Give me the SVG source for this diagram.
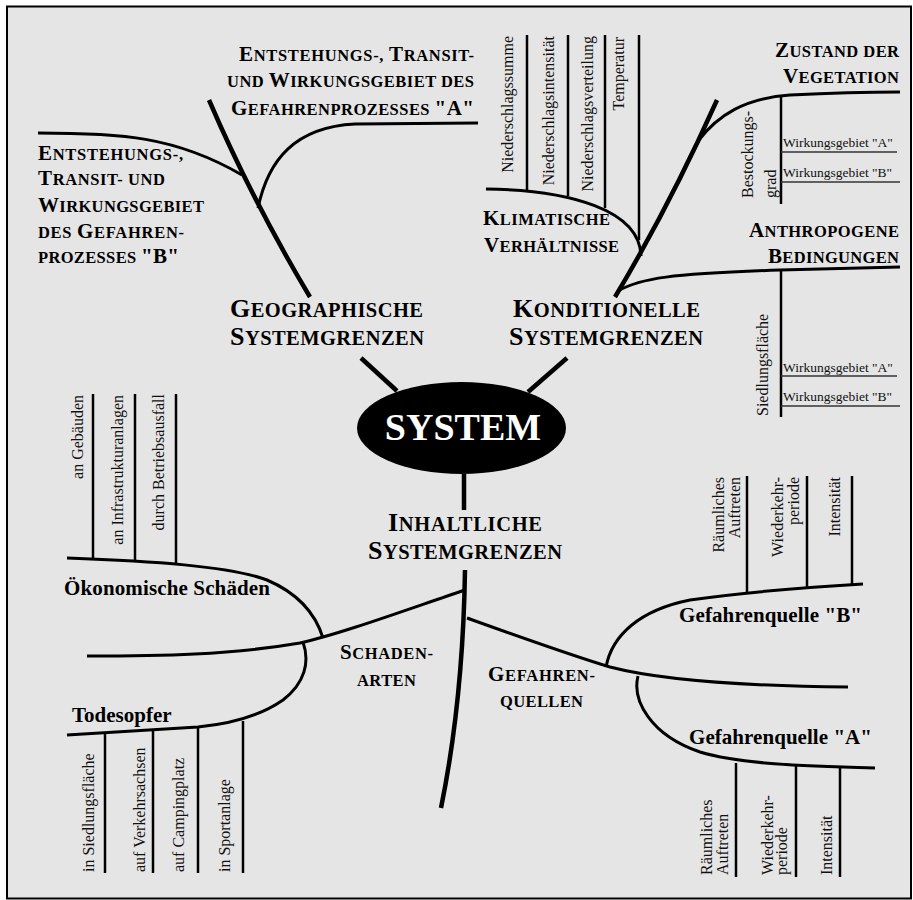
<svg xmlns="http://www.w3.org/2000/svg" width="913" height="900" viewBox="0 0 913 900">
  <style>
    .frame { fill: #e5e5e5; stroke: #000; stroke-width: 2; }
    .c { fill: none; stroke: #000; stroke-linecap: butt; }
    .main { stroke-width: 4.5; }
    .br { stroke-width: 3; }
    .v { stroke-width: 2.5; }
    .thin { stroke-width: 1.6; stroke: #333; }
    text { font-family: "Liberation Serif", "Times New Roman", serif; fill: #000; }
    .b { font-weight: bold; }
    .m { font-size: 21px; font-weight: bold; }
    .m .s { font-size: 16.5px; }
    .l { font-size: 26px; font-weight: bold; }
    .l .s { font-size: 20.5px; }
    .k { font-size: 21px; font-weight: bold; }
    .k .s { font-size: 16.5px; }
    .lab { font-size: 21px; font-weight: bold; }
    .vt { font-size: 16px; fill: #111; }
    .wg { font-size: 13.5px; fill: #111; }
  </style>

  <rect class="frame" x="7" y="6.5" width="904" height="892"/>

  <g id="connectors">
    <!-- central hub spokes -->
    <line class="c main" x1="361" y1="358" x2="397" y2="391"/>
    <line class="c main" x1="567" y1="358" x2="528" y2="392"/>
    <line class="c main" x1="464" y1="474" x2="464" y2="510"/>

    <!-- geographic boundaries -->
    <path class="c main" d="M209,100 Q252,200 310,297"/>
    <path class="c br" d="M38,133 C120,133 175,136 242,175"/>
    <path class="c br" d="M258,208 C268,160 295,127 355,124 L478,123"/>

    <!-- conditional boundaries -->
    <path class="c main" d="M615,297 Q670,205 717,100"/>
    <path class="c br" d="M486,189 C570,190 640,210 641,256"/>
    <line class="c v" x1="527" y1="35" x2="527" y2="191"/>
    <line class="c v" x1="568" y1="35" x2="568" y2="196"/>
    <line class="c v" x1="605" y1="35" x2="605" y2="208"/>
    <line class="c v" x1="639" y1="35" x2="639" y2="240"/>
    <path class="c br" d="M698,141 C718,115 745,98 790,95 Q850,92 900,92"/>
    <line class="c v" x1="781" y1="95" x2="781" y2="204"/>
    <line class="c thin" x1="781" y1="152" x2="897" y2="152"/>
    <line class="c thin" x1="781" y1="182" x2="900" y2="182"/>
    <path class="c br" d="M618,291 C640,278 670,274 780,270 L900,267"/>
    <line class="c v" x1="781" y1="269" x2="781" y2="417"/>
    <line class="c thin" x1="781" y1="376" x2="897" y2="376"/>
    <line class="c thin" x1="781" y1="406" x2="900" y2="406"/>

    <!-- content boundaries -->
    <path class="c main" d="M465,570 Q463,700 441,808"/>
    <path class="c br" d="M465,590 C400,612 340,634 300,643 C230,655 160,656 87,656"/>
    <path class="c br" d="M67,558 C150,561 230,566 267,580 C295,592 315,612 323,638"/>
    <line class="c v" x1="93" y1="394" x2="93" y2="559"/>
    <line class="c v" x1="135" y1="394" x2="135" y2="561"/>
    <line class="c v" x1="176" y1="394" x2="176" y2="564"/>
    <path class="c br" d="M303,642 C310,662 305,683 283,700 C260,716 230,724 198,727 Q130,731 67,735"/>
    <line class="c v" x1="105" y1="733" x2="105" y2="873"/>
    <line class="c v" x1="153" y1="730" x2="153" y2="873"/>
    <line class="c v" x1="198" y1="727" x2="198" y2="873"/>
    <line class="c v" x1="243" y1="721" x2="243" y2="873"/>
    <path class="c br" d="M467,618 C520,637 570,655 610,667 C660,680 740,686 848,687"/>
    <path class="c br" d="M606,667 C612,635 640,610 690,600 Q760,590 863,584"/>
    <line class="c v" x1="747" y1="476" x2="747" y2="593"/>
    <line class="c v" x1="807" y1="476" x2="807" y2="589"/>
    <line class="c v" x1="852" y1="476" x2="852" y2="586"/>
    <path class="c br" d="M638,676 C632,700 650,735 700,752 C740,764 800,766 875,768"/>
    <line class="c v" x1="736" y1="763" x2="736" y2="877"/>
    <line class="c v" x1="796" y1="765" x2="796" y2="877"/>
    <line class="c v" x1="840" y1="767" x2="840" y2="877"/>
  </g>

  <g id="system">
    <ellipse cx="461.5" cy="428" rx="104.5" ry="46" fill="#000"/>
    <text x="463" y="440" text-anchor="middle" class="b" font-size="38" style="fill:#fff">SYSTEM</text>
  </g>

  <g id="geographische-systemgrenzen">
    <text class="l" x="230" y="317" textLength="193">G<tspan class="s">EOGRAPHISCHE</tspan></text>
    <text class="l" x="230" y="345" textLength="194">S<tspan class="s">YSTEMGRENZEN</tspan></text>
  </g>

  <g id="gebiet-a">
    <text class="m" x="239" y="61" textLength="235">E<tspan class="s">NTSTEHUNGS-, </tspan>T<tspan class="s">RANSIT-</tspan></text>
    <text class="m" x="227" y="87" textLength="247"><tspan class="s">UND </tspan>W<tspan class="s">IRKUNGSGEBIET DES</tspan></text>
    <text class="m" x="231" y="115" textLength="243">G<tspan class="s">EFAHRENPROZESSES </tspan>"A"</text>
  </g>

  <g id="gebiet-b">
    <text class="m" x="38" y="160" textLength="145">E<tspan class="s">NTSTEHUNGS-,</tspan></text>
    <text class="m" x="38" y="185" textLength="127">T<tspan class="s">RANSIT- UND</tspan></text>
    <text class="m" x="38" y="212" textLength="166">W<tspan class="s">IRKUNGSGEBIET</tspan></text>
    <text class="m" x="38" y="238" textLength="146"><tspan class="s">DES </tspan>G<tspan class="s">EFAHREN-</tspan></text>
    <text class="m" x="38" y="263" textLength="141"><tspan class="s">PROZESSES </tspan>"B"</text>
  </g>

  <g id="konditionelle-systemgrenzen">
    <text class="l" x="513" y="317" textLength="187">K<tspan class="s">ONDITIONELLE</tspan></text>
    <text class="l" x="509" y="345" textLength="194">S<tspan class="s">YSTEMGRENZEN</tspan></text>
  </g>

  <g id="klimatische-verhaeltnisse">
    <text class="m" x="483" y="225" textLength="127">K<tspan class="s">LIMATISCHE</tspan></text>
    <text class="m" x="484" y="252" textLength="135">V<tspan class="s">ERHÄLTNISSE</tspan></text>
    <text class="vt" transform="translate(513,36) rotate(-90)" text-anchor="end">Niederschlagssumme</text>
    <text class="vt" transform="translate(554,36) rotate(-90)" text-anchor="end">Niederschlagsintensität</text>
    <text class="vt" transform="translate(593,36) rotate(-90)" text-anchor="end">Niederschlagsverteilung</text>
    <text class="vt" transform="translate(624,37) rotate(-90)" text-anchor="end">Temperatur</text>
  </g>

  <g id="zustand-vegetation">
    <text class="m" x="775" y="57" textLength="124">Z<tspan class="s">USTAND DER</tspan></text>
    <text class="m" x="783" y="83" textLength="116">V<tspan class="s">EGETATION</tspan></text>
    <text class="vt" transform="translate(753,198) rotate(-90)">Bestockungs-</text>
    <text class="vt" transform="translate(776,198) rotate(-90)">grad</text>
    <text class="wg" x="783" y="147">Wirkungsgebiet "A"</text>
    <text class="wg" x="783" y="177">Wirkungsgebiet "B"</text>
  </g>

  <g id="anthropogene-bedingungen">
    <text class="m" x="749" y="237" textLength="150">A<tspan class="s">NTHROPOGENE</tspan></text>
    <text class="m" x="768" y="263" textLength="131">B<tspan class="s">EDINGUNGEN</tspan></text>
    <text class="vt" transform="translate(768,416) rotate(-90)">Siedlungsfläche</text>
    <text class="wg" x="783" y="372">Wirkungsgebiet "A"</text>
    <text class="wg" x="783" y="401">Wirkungsgebiet "B"</text>
  </g>

  <g id="inhaltliche-systemgrenzen">
    <text class="l" x="388" y="531" textLength="154">I<tspan class="s">NHALTLICHE</tspan></text>
    <text class="l" x="368" y="559" textLength="194">S<tspan class="s">YSTEMGRENZEN</tspan></text>
  </g>

  <g id="schadenarten">
    <text class="k" x="340" y="659" textLength="93">S<tspan class="s">CHADEN-</tspan></text>
    <text class="k" x="357" y="686" textLength="59"><tspan class="s">ARTEN</tspan></text>
  </g>

  <g id="oekonomische-schaeden">
    <text class="lab" x="64" y="595" textLength="206">Ökonomische Schäden</text>
    <text class="vt" transform="translate(83,395) rotate(-90)" text-anchor="end">an Gebäuden</text>
    <text class="vt" transform="translate(123,395) rotate(-90)" text-anchor="end">an Infrastrukturanlagen</text>
    <text class="vt" transform="translate(164,394) rotate(-90)" text-anchor="end">durch Betriebsausfall</text>
  </g>

  <g id="todesopfer">
    <text class="lab" x="72" y="722">Todesopfer</text>
    <text class="vt" transform="translate(94,872) rotate(-90)">in Siedlungsfläche</text>
    <text class="vt" transform="translate(145,872) rotate(-90)">auf Verkehrsachsen</text>
    <text class="vt" transform="translate(184,872) rotate(-90)">auf Campingplatz</text>
    <text class="vt" transform="translate(230,872) rotate(-90)">in Sportanlage</text>
  </g>

  <g id="gefahrenquellen">
    <text class="k" x="488" y="681" textLength="107">G<tspan class="s">EFAHREN-</tspan></text>
    <text class="k" x="500" y="707" textLength="83"><tspan class="s">QUELLEN</tspan></text>
  </g>

  <g id="gefahrenquelle-b">
    <text class="lab" x="679" y="622" textLength="183">Gefahrenquelle "B"</text>
    <text class="vt" transform="translate(724,477) rotate(-90)" text-anchor="end">Räumliches</text>
    <text class="vt" transform="translate(740,477) rotate(-90)" text-anchor="end">Auftreten</text>
    <text class="vt" transform="translate(783,477) rotate(-90)" text-anchor="end">Wiederkehr-</text>
    <text class="vt" transform="translate(799,477) rotate(-90)" text-anchor="end">periode</text>
    <text class="vt" transform="translate(840,477) rotate(-90)" text-anchor="end">Intensität</text>
  </g>

  <g id="gefahrenquelle-a">
    <text class="lab" x="689" y="744" textLength="183">Gefahrenquelle "A"</text>
    <text class="vt" transform="translate(712,875) rotate(-90)">Räumliches</text>
    <text class="vt" transform="translate(728,875) rotate(-90)">Auftreten</text>
    <text class="vt" transform="translate(773,875) rotate(-90)">Wiederkehr-</text>
    <text class="vt" transform="translate(787,875) rotate(-90)">periode</text>
    <text class="vt" transform="translate(832,875) rotate(-90)">Intensität</text>
  </g>
</svg>
